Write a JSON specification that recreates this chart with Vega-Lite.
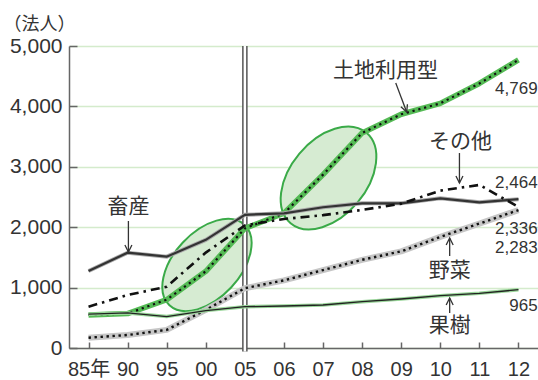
{
  "$schema": "https://vega.github.io/schema/vega-lite/v6.json",
  "width": 469,
  "height": 302,
  "autosize": "none",
  "padding": {"left": 69, "top": 46, "right": 0, "bottom": 32},
  "background": "white",
  "config": {"view": {"stroke": null}},
  "datasets": {
    "series": [
      {"s": "土地利用型", "i": 0, "v": 548}, {"s": "土地利用型", "i": 1, "v": 570}, {"s": "土地利用型", "i": 2, "v": 800}, {"s": "土地利用型", "i": 3, "v": 1270}, {"s": "土地利用型", "i": 4, "v": 1980}, {"s": "土地利用型", "i": 5, "v": 2230}, {"s": "土地利用型", "i": 6, "v": 2870}, {"s": "土地利用型", "i": 7, "v": 3560}, {"s": "土地利用型", "i": 8, "v": 3870}, {"s": "土地利用型", "i": 9, "v": 4050}, {"s": "土地利用型", "i": 10, "v": 4380}, {"s": "土地利用型", "i": 11, "v": 4769},
      {"s": "野菜", "i": 0, "v": 170}, {"s": "野菜", "i": 1, "v": 215}, {"s": "野菜", "i": 2, "v": 300}, {"s": "野菜", "i": 3, "v": 630}, {"s": "野菜", "i": 4, "v": 990}, {"s": "野菜", "i": 5, "v": 1120}, {"s": "野菜", "i": 6, "v": 1290}, {"s": "野菜", "i": 7, "v": 1460}, {"s": "野菜", "i": 8, "v": 1600}, {"s": "野菜", "i": 9, "v": 1840}, {"s": "野菜", "i": 10, "v": 2060}, {"s": "野菜", "i": 11, "v": 2283},
      {"s": "畜産", "i": 0, "v": 1275}, {"s": "畜産", "i": 1, "v": 1578}, {"s": "畜産", "i": 2, "v": 1512}, {"s": "畜産", "i": 3, "v": 1790}, {"s": "畜産", "i": 4, "v": 2205}, {"s": "畜産", "i": 5, "v": 2230}, {"s": "畜産", "i": 6, "v": 2330}, {"s": "畜産", "i": 7, "v": 2395}, {"s": "畜産", "i": 8, "v": 2395}, {"s": "畜産", "i": 9, "v": 2478}, {"s": "畜産", "i": 10, "v": 2412}, {"s": "畜産", "i": 11, "v": 2464},
      {"s": "その他", "i": 0, "v": 684}, {"s": "その他", "i": 1, "v": 877}, {"s": "その他", "i": 2, "v": 1015}, {"s": "その他", "i": 3, "v": 1580}, {"s": "その他", "i": 4, "v": 2030}, {"s": "その他", "i": 5, "v": 2136}, {"s": "その他", "i": 6, "v": 2200}, {"s": "その他", "i": 7, "v": 2285}, {"s": "その他", "i": 8, "v": 2390}, {"s": "その他", "i": 9, "v": 2605}, {"s": "その他", "i": 10, "v": 2700}, {"s": "その他", "i": 11, "v": 2336},
      {"s": "果樹", "i": 0, "v": 560}, {"s": "果樹", "i": 1, "v": 580}, {"s": "果樹", "i": 2, "v": 520}, {"s": "果樹", "i": 3, "v": 620}, {"s": "果樹", "i": 4, "v": 684}, {"s": "果樹", "i": 5, "v": 695}, {"s": "果樹", "i": 6, "v": 712}, {"s": "果樹", "i": 7, "v": 767}, {"s": "果樹", "i": 8, "v": 811}, {"s": "果樹", "i": 9, "v": 866}, {"s": "果樹", "i": 10, "v": 905}, {"s": "果樹", "i": 11, "v": 965}
    ],
    "ellipses": [
      {"e": 1, "i": 3.03, "v": 1374},
      {"e": 2, "i": 6.14, "v": 2815}
    ],
    "divider": [{"i": 4, "v": 5000, "v2": -60}],
    "names": [
      {"t": "土地利用型", "i": 7.60, "v": 4586},
      {"t": "その他", "i": 9.52, "v": 3411},
      {"t": "畜産", "i": 1.02, "v": 2334},
      {"t": "野菜", "i": 9.24, "v": 1275},
      {"t": "果樹", "i": 9.24, "v": 364}
    ],
    "numbers": [
      {"t": "4,769", "i": 11.49, "v": 4288},
      {"t": "2,464", "i": 11.49, "v": 2730},
      {"t": "2,336", "i": 11.49, "v": 1970},
      {"t": "2,283", "i": 11.49, "v": 1656},
      {"t": "965", "i": 11.49, "v": 695}
    ],
    "arrows": [
      {"d": "slant", "i": 8.14, "v": 3907, "i2": 7.86, "v2": 4387},
      {"d": "down", "i": 9.49, "v": 2732, "i2": 9.49, "v2": 3228},
      {"d": "down", "i": 1.02, "v": 1589, "i2": 1.02, "v2": 2103},
      {"d": "up", "i": 9.24, "v": 1821, "i2": 9.24, "v2": 1523},
      {"d": "up", "i": 9.24, "v": 828, "i2": 9.24, "v2": 579}
    ]
  },
  "encoding": {
    "x": {
      "field": "i", "type": "quantitative", "title": null,
      "scale": {"domain": [-0.5, 11.5], "nice": false, "zero": false},
      "axis": {
        "values": [0, 1, 2, 3, 4, 5, 6, 7, 8, 9, 10, 11],
        "labelExpr": "['85年','90','95','00','05','06','07','08','09','10','11','12'][datum.value]",
        "grid": false, "domainColor": "#666666", "domainWidth": 1.5,
        "tickColor": "#666666", "tickSize": -6, "tickWidth": 1.5,
        "labelFont": "Liberation Sans, Noto Sans CJK JP", "labelFontSize": 20, "labelColor": "#333333",
        "labelPadding": 17, "labelFlush": false, "labelOverlap": false
      }
    },
    "y": {
      "field": "v", "type": "quantitative",
      "scale": {"domain": [0, 5000], "nice": false},
      "axis": {
        "title": "（法人）", "titleAngle": 0, "titleAlign": "left", "titleBaseline": "middle",
        "titleX": -66, "titleY": -22, "titleFont": "Noto Sans CJK JP", "titleFontSize": 18,
        "titleFontWeight": "normal", "titleColor": "#333333",
        "values": [0, 1000, 2000, 3000, 4000, 5000], "format": ",.0f",
        "grid": true, "gridColor": "#d4ebcc", "gridWidth": 1.5,
        "domainColor": "#666666", "domainWidth": 1.5,
        "tickColor": "#666666", "tickSize": -8, "tickWidth": 1.5,
        "labelFont": "Liberation Sans", "labelFontSize": 21, "labelColor": "#333333",
        "labelPadding": 15, "labelFlush": false, "labelOverlap": false
      }
    }
  },
  "layer": [
    {
      "data": {"name": "ellipses"},
      "transform": [{"filter": "datum.e == 1"}],
      "mark": {"type": "point", "filled": true, "fill": "#d6ebd2", "stroke": "#3aaa48", "strokeWidth": 2, "opacity": 1, "fillOpacity": 1, "strokeOpacity": 1, "size": 12100, "angle": 313,
        "shape": "M 1 0 C 1 0.3314 0.5523 0.6 0 0.6 C -0.5523 0.6 -1 0.3314 -1 0 C -1 -0.3314 -0.5523 -0.6 0 -0.6 C 0.5523 -0.6 1 -0.3314 1 0 Z"}
    },
    {
      "data": {"name": "ellipses"},
      "transform": [{"filter": "datum.e == 2"}],
      "mark": {"type": "point", "filled": true, "fill": "#d6ebd2", "stroke": "#3aaa48", "strokeWidth": 2, "opacity": 1, "fillOpacity": 1, "strokeOpacity": 1, "size": 13924, "angle": 310,
        "shape": "M 1 0 C 1 0.3557 0.5523 0.644 0 0.644 C -0.5523 0.644 -1 0.3557 -1 0 C -1 -0.3557 -0.5523 -0.644 0 -0.644 C 0.5523 -0.644 1 -0.3557 1 0 Z"}
    },
    {
      "data": {"name": "divider"},
      "mark": {"type": "rule", "color": "#555555", "strokeWidth": 5.5},
      "encoding": {"y2": {"field": "v2"}}
    },
    {
      "data": {"name": "divider"},
      "mark": {"type": "rule", "color": "#ffffff", "strokeWidth": 2.5},
      "encoding": {"y2": {"field": "v2"}}
    },
    {
      "data": {"name": "series"},
      "transform": [{"filter": "datum.s == '土地利用型'"}],
      "mark": {"type": "line", "color": "#55bb55", "strokeWidth": 5.5, "strokeJoin": "round"},
      "encoding": {}
    },
    {
      "data": {"name": "series"},
      "transform": [{"filter": "datum.s == '土地利用型'"}],
      "mark": {"type": "line", "color": "#111111", "strokeWidth": 2.2, "strokeDash": [2.2, 3.8]},
      "encoding": {}
    },
    {
      "data": {"name": "series"},
      "transform": [{"filter": "datum.s == '野菜'"}],
      "mark": {"type": "line", "color": "#c6c6c6", "strokeWidth": 6, "strokeJoin": "round"},
      "encoding": {}
    },
    {
      "data": {"name": "series"},
      "transform": [{"filter": "datum.s == '野菜'"}],
      "mark": {"type": "line", "color": "#111111", "strokeWidth": 2.4, "strokeDash": [2.4, 3.6]},
      "encoding": {}
    },
    {
      "data": {"name": "series"},
      "transform": [{"filter": "datum.s == '果樹'"}],
      "mark": {"type": "line", "color": "#9ad69a", "strokeWidth": 3.5},
      "encoding": {}
    },
    {
      "data": {"name": "series"},
      "transform": [{"filter": "datum.s == '果樹'"}],
      "mark": {"type": "line", "color": "#222222", "strokeWidth": 1.3},
      "encoding": {}
    },
    {
      "data": {"name": "series"},
      "transform": [{"filter": "datum.s == '畜産'"}],
      "mark": {"type": "line", "color": "#aaaaaa", "strokeWidth": 4},
      "encoding": {}
    },
    {
      "data": {"name": "series"},
      "transform": [{"filter": "datum.s == '畜産'"}],
      "mark": {"type": "line", "color": "#333333", "strokeWidth": 2.2},
      "encoding": {}
    },
    {
      "data": {"name": "series"},
      "transform": [{"filter": "datum.s == 'その他'"}],
      "mark": {"type": "line", "color": "#111111", "strokeWidth": 2.6, "strokeDash": [9, 5, 2.5, 5]},
      "encoding": {}
    },
    {
      "data": {"name": "arrows"},
      "mark": {"type": "rule", "color": "#333333", "strokeWidth": 1.3},
      "encoding": {"x2": {"field": "i2"}, "y2": {"field": "v2"}}
    },
    {
      "data": {"name": "arrows"},
      "transform": [{"filter": "datum.d == 'down'"}],
      "mark": {"type": "point", "shape": "M -0.5 -1 L 0 0 L 0.5 -1", "filled": false, "fill": null, "stroke": "#333333", "strokeWidth": 1.3, "opacity": 1, "size": 196, "angle": 0}
    },
    {
      "data": {"name": "arrows"},
      "transform": [{"filter": "datum.d == 'up'"}],
      "mark": {"type": "point", "shape": "M -0.5 -1 L 0 0 L 0.5 -1", "filled": false, "fill": null, "stroke": "#333333", "strokeWidth": 1.3, "opacity": 1, "size": 196, "angle": 180}
    },
    {
      "data": {"name": "arrows"},
      "transform": [{"filter": "datum.d == 'slant'"}],
      "mark": {"type": "point", "shape": "M -0.5 -1 L 0 0 L 0.5 -1", "filled": false, "fill": null, "stroke": "#333333", "strokeWidth": 1.3, "opacity": 1, "size": 196, "angle": 339}
    },
    {
      "data": {"name": "names"},
      "mark": {"type": "text", "font": "Noto Sans CJK JP", "fontSize": 21, "color": "#333333", "align": "center", "baseline": "middle"},
      "encoding": {"text": {"field": "t"}}
    },
    {
      "data": {"name": "numbers"},
      "mark": {"type": "text", "font": "Liberation Sans", "fontSize": 17, "color": "#333333", "align": "right", "baseline": "middle"},
      "encoding": {"text": {"field": "t"}}
    }
  ]
}
